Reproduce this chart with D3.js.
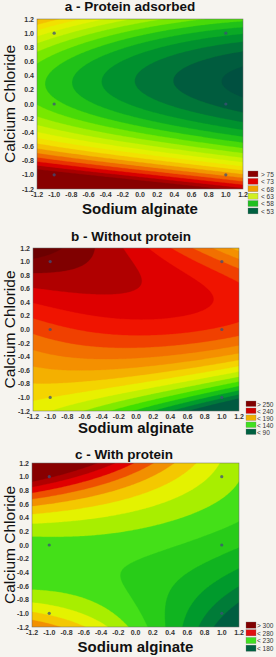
<!DOCTYPE html>
<html>
<head>
<meta charset="utf-8">
<script src="https://cdn.jsdelivr.net/npm/d3@7"></script>
<style>
    html, body { margin: 0; padding: 0; background: #f6f4ef; }
    svg { display: block; }
    text { font-family: "Liberation Sans", Arial, sans-serif; }
</style>
</head>
<body>
<script>
// ---------------------- DATA ----------------------

const factorLevels = [-1, 0, 1];
// rows: Calcium Chloride = -1, 0, 1 ; columns: Sodium alginate = -1, 0, 1
const proteinAdsorbed = [[77, 73, 69], [58, 54, 51], [63, 58, 55]];
const withoutProtein = [[170, 150, 112], [216, 224, 218], [256, 239, 210]];
const withProtein = [[248, 222, 182], [226, 224, 214], [302, 266, 236]];

// experimental design points (alginate, chloride)
const designAlginate = [-1, 1, -1, 1, -1, 1];
const designChloride = [1, 1, 0, 0, -1, -1];

// contour levels
const levelsA = [50, 51.5, 53, 54.5, 56, 57.5, 59, 60.5, 62, 63.5, 65, 66.5, 68, 69.5, 71, 72.5, 74, 75.5];
const levelsB = [100, 110, 120, 130, 140, 150, 160, 170, 180, 190, 200, 210, 220, 230, 240, 250, 260];
const levelsC = [180, 190, 200, 210, 220, 230, 240, 250, 260, 270, 280, 290, 300];

// legend entries
const legendA = ["> 75", "< 73", "< 68", "< 63", "< 58", "< 53"];
const legendB = ["> 250", "< 240", "< 190", "< 140", "< 90"];
const legendC = ["> 300", "< 280", "< 230", "< 180"];

const tickValues = [-1.2, -1.0, -0.8, -0.6, -0.4, -0.2, 0.0, 0.2, 0.4, 0.6, 0.8, 1.0, 1.2];

// ---------------------- STYLES ----------------------
const paletteA = {
    stops: [50, 52, 54, 56, 57.5, 59, 61, 63, 65, 67, 69, 71, 73, 75, 77],
    colors: ["#005040", "#00703a", "#00962c", "#10b420", "#30d010", "#60e400", "#a0ee00", "#d0f200",
        "#f0f000", "#f4c800", "#f09000", "#ee5000", "#e00000", "#a00000", "#7a0000"],
    legend: ["#8b0000", "#e00000", "#f0a000", "#d0f020", "#20c020", "#006040"]
};
const paletteB = {
    stops: [95, 105, 115, 125, 135, 145, 155, 165, 175, 185, 195, 205, 215, 225, 235, 245, 255, 265],
    colors: ["#005a40", "#00783a", "#009c2c", "#18c018", "#40e000", "#80ea00", "#c0f000", "#e8f000",
        "#f4d400", "#f4b000", "#f49000", "#f27000", "#f04000", "#f01400", "#de0000", "#b00000", "#800000", "#6c0000"],
    legend: ["#800000", "#d00000", "#f0b000", "#40e020", "#006040"]
};
const paletteC = {
    stops: [175, 185, 195, 205, 215, 225, 235, 245, 255, 265, 275, 285, 295, 305],
    colors: ["#005e40", "#007c38", "#009a2c", "#10b420", "#28cc18", "#44e018", "#a8ee00",
        "#e4f200", "#f4c800", "#f29000", "#ee5000", "#e00000", "#b00000", "#880000"],
    legend: ["#800000", "#e01010", "#40e020", "#006040"]
};

const panels = [
    {title: "a - Protein adsorbed", values: proteinAdsorbed, levels: levelsA, palette: paletteA, legend: legendA,
        x0: 37, x1: 243, y0: 19, y1: 189, titleX: 130, titleY: 11, xlabY: 214,
        legX: 248, legY: 171, legStep: 7.4, legTextX: 261},
    {title: "b - Without protein", values: withoutProtein, levels: levelsB, palette: paletteB, legend: legendB,
        x0: 33, x1: 239, y0: 248, y1: 411, titleX: 131, titleY: 241, xlabY: 433,
        legX: 246, legY: 401, legStep: 7, legTextX: 257},
    {title: "c - With protein", values: withProtein, levels: levelsC, palette: paletteC, legend: legendC,
        x0: 32, x1: 239, y0: 463, y1: 627, titleX: 124, titleY: 459, xlabY: 652,
        legX: 246, legY: 622, legStep: 7.7, legTextX: 257}
];

// ---------------------- UTILITY FUNCTIONS ----------------------

// Lagrange weights of t over the factor levels
function basis(t) {
    return factorLevels.map((ti, i) => factorLevels.reduce(
        (w, tj, j) => (j === i ? w : w * (t - tj) / (ti - tj)), 1));
}

// fitted response surface through the read values
function surface(values, x, y) {
    const lx = basis(x), ly = basis(y);
    let z = 0;
    for (let r = 0; r < factorLevels.length; r++)
        for (let c = 0; c < factorLevels.length; c++)
            z += ly[r] * lx[c] * values[r][c];
    return z;
}

function fmt(v) {
    const s = Math.abs(v).toFixed(1);
    return (v < -1e-9 ? "-" : "") + s;
}

// ---------------------- MAIN RENDER FUNCTION ----------------------
const svg = d3.select("body").append("svg")
    .attr("width", 276)
    .attr("height", 657);

function renderPanel(p, idx) {
    const x = d3.scaleLinear().domain([-1.2, 1.2]).range([p.x0, p.x1]);
    const y = d3.scaleLinear().domain([-1.2, 1.2]).range([p.y1, p.y0]);
    const color = d3.scaleLinear().domain(p.palette.stops).range(p.palette.colors).clamp(true);

    // sample the surface on a regular grid, top row first
    const n = 121, step = 2.4 / (n - 1);
    const grid = new Array(n * n);
    for (let j = 0; j < n; j++)
        for (let i = 0; i < n; i++)
            grid[j * n + i] = surface(p.values, -1.2 + i * step, 1.2 - j * step);

    const contours = d3.contours().size([n, n]).thresholds(p.levels)(grid);
    const proj = d3.geoTransform({
        point: function (gx, gy) {
            this.stream.point(x(-1.2 + (gx - 0.5) * step), y(1.2 - (gy - 0.5) * step));
        }
    });
    const path = d3.geoPath(proj);

    const clipId = "clip" + idx;
    svg.append("clipPath").attr("id", clipId)
        .append("rect")
        .attr("x", p.x0).attr("y", p.y0)
        .attr("width", p.x1 - p.x0).attr("height", p.y1 - p.y0);

    const g = svg.append("g").attr("clip-path", `url(#${clipId})`);
    const lv = p.levels;
    const gap = lv[1] - lv[0];
    const bandColor = (d, k) => {
        const hi = k + 1 < lv.length ? lv[k + 1] : lv[k] + gap;
        return color((d.value + hi) / 2);
    };

    g.append("rect")
        .attr("x", p.x0).attr("y", p.y0)
        .attr("width", p.x1 - p.x0).attr("height", p.y1 - p.y0)
        .attr("fill", color(lv[0] - gap / 2));

    g.selectAll("path.band")
        .data(contours)
        .join("path")
        .attr("class", "band")
        .attr("d", path)
        .attr("fill", bandColor)
        .attr("stroke", bandColor)
        .attr("stroke-width", 0.3);

    // design points
    g.selectAll("circle")
        .data(designAlginate.map((a, k) => [a, designChloride[k]]))
        .join("circle")
        .attr("cx", d => x(d[0]))
        .attr("cy", d => y(d[1]))
        .attr("r", 1.6)
        .attr("fill", "#3d4f7a")
        .attr("opacity", 0.75);

    // frame
    svg.append("rect")
        .attr("x", p.x0).attr("y", p.y0)
        .attr("width", p.x1 - p.x0).attr("height", p.y1 - p.y0)
        .attr("fill", "none")
        .attr("stroke", "#6a6a6a")
        .attr("stroke-width", 0.5);

    // tick labels
    svg.append("g").selectAll("text")
        .data(tickValues)
        .join("text")
        .attr("x", p.x0 - 3)
        .attr("y", d => y(d) + 2.5)
        .attr("text-anchor", "end")
        .attr("font-size", 7)
        .attr("font-weight", "bold")
        .attr("fill", "#333")
        .text(fmt);

    svg.append("g").selectAll("text")
        .data(tickValues)
        .join("text")
        .attr("x", d => x(d))
        .attr("y", p.y1 + 8)
        .attr("text-anchor", "middle")
        .attr("font-size", 7)
        .attr("font-weight", "bold")
        .attr("fill", "#333")
        .text(fmt);

    // titles
    svg.append("text")
        .attr("x", p.titleX).attr("y", p.titleY)
        .attr("text-anchor", "middle")
        .attr("font-size", 13.5)
        .attr("font-weight", "bold")
        .attr("fill", "#111")
        .text(p.title);

    svg.append("text")
        .attr("x", (p.x0 + p.x1) / 2).attr("y", p.xlabY)
        .attr("text-anchor", "middle")
        .attr("font-size", 15)
        .attr("font-weight", "bold")
        .attr("fill", "#111")
        .text("Sodium alginate");

    svg.append("text")
        .attr("transform", `translate(15,${(p.y0 + p.y1) / 2}) rotate(-90)`)
        .attr("text-anchor", "middle")
        .attr("font-size", 15.5)
        .attr("fill", "#111")
        .text("Calcium Chloride");

    // legend
    const leg = svg.append("g");
    p.legend.forEach((label, k) => {
        leg.append("rect")
            .attr("x", p.legX).attr("y", p.legY + k * p.legStep)
            .attr("width", 10).attr("height", p.legStep - 1.5)
            .attr("fill", p.palette.legend[k])
            .attr("stroke", "#777")
            .attr("stroke-width", 0.3);
        leg.append("text")
            .attr("x", p.legTextX).attr("y", p.legY + k * p.legStep + p.legStep / 2 + 2)
            .attr("font-size", 6.5)
            .attr("fill", "#333")
            .text(label);
    });
}

panels.forEach(renderPanel);
</script>
</body>
</html>
